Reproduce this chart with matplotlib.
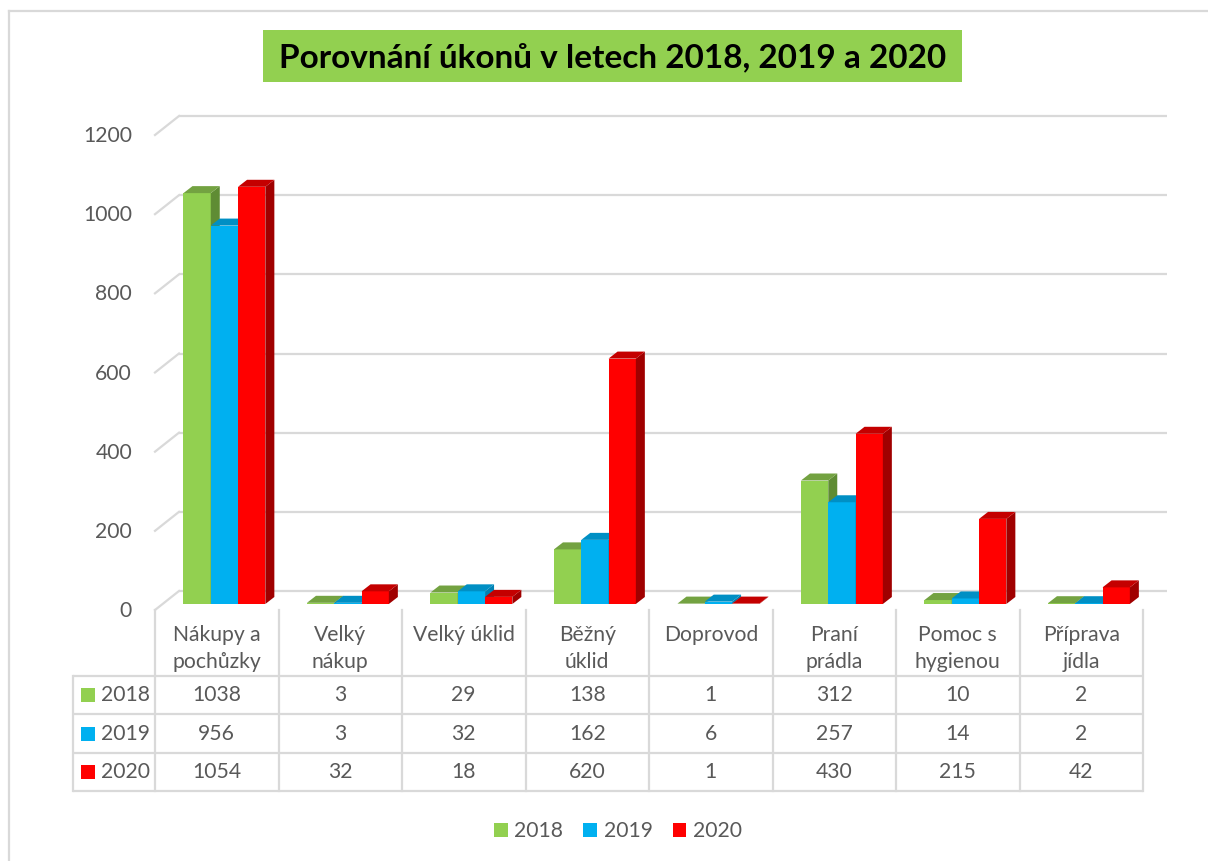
import matplotlib
matplotlib.use("Agg")
import matplotlib.pyplot as plt
from matplotlib.patches import Polygon, Rectangle

# ---------------- data ----------------
categories = ["Nákupy a\npochůzky", "Velký\nnákup", "Velký úklid", "Běžný\núklid",
              "Doprovod", "Praní\nprádla", "Pomoc s\nhygienou", "Příprava\njídla"]
series_names = ["2018", "2019", "2020"]
v2018 = [1038, 3, 29, 138, 1, 312, 10, 2]
v2019 = [956, 3, 32, 162, 6, 257, 14, 2]
v2020 = [1054, 32, 18, 620, 1, 430, 215, 42]
yticks = [0, 200, 400, 600, 800, 1000, 1200]
title = "Porovnání úkonů v letech 2018, 2019 a 2020"

series = [v2018, v2019, v2020]
c_front = ["#92d050", "#00b0f0", "#ff0000"]
c_side = ["#5f8c34", "#0081b3", "#a00000"]
c_top = ["#73a241", "#008fc4", "#c40000"]
TXT = "#595959"
GRID = "#d9d9d9"
FONT = "Lato"
FS = 15.2

# ---------------- layout (pixels) ----------------
W, H, DPI = 1208, 861, 100
fig = plt.figure(figsize=(W / DPI, H / DPI), dpi=DPI)
fig.patch.set_facecolor("white")

ov = fig.add_axes([0, 0, 1, 1])
ov.set_xlim(0, W)
ov.set_ylim(H, 0)
ov.axis("off")

AX_L, AX_R = 155, 1143
Y0, Y1 = 604, 129
ax = fig.add_axes([AX_L / W, 1 - Y0 / H, (AX_R - AX_L) / W, (Y0 - Y1) / H])
ax.set_xlim(-0.5, len(categories) - 0.5)
ax.set_ylim(0, 1200)
ax.axis("off")

pxx = (AX_R - AX_L) / len(categories)
pxy = (Y0 - Y1) / 1200.0


def dx(p):
    return p / pxx


def dy(p):
    return p / pxy


# gridlines (3D back wall + side wall)
for v in yticks:
    ax.plot([-0.5 + dx(24), len(categories) - 0.5 + dx(24)], [v + dy(13)] * 2,
            color=GRID, lw=1.6, clip_on=False, zorder=0.5, solid_capstyle="butt")
    ax.plot([-0.5, -0.5 + dx(24)], [v - dy(6), v + dy(13)],
            color=GRID, lw=1.6, clip_on=False, zorder=0.5)
    ax.text(-0.5 - dx(23), v - dy(7), f"{v}", ha="right", va="center",
            fontsize=FS, color=TXT, family=FONT)

# bars
width = 0.221
off = 0.062
handles = []
for j, vals in enumerate(series):
    xs = [i + off + (j - 1) * width for i in range(len(categories))]
    bc = ax.bar(xs, vals, width, color=c_front[j], zorder=2 + j,
                label=series_names[j], clip_on=False, linewidth=0)
    handles.append(bc)
    for x, v in zip(xs, vals):
        xl, xr = x - width / 2, x + width / 2
        side = Polygon([(xr, 0), (xr + dx(9), dy(7)), (xr + dx(9), v + dy(7)), (xr, v)],
                       closed=True, facecolor=c_side[j], edgecolor="none",
                       zorder=2 + j, clip_on=False)
        top = Polygon([(xl, v), (xr, v), (xr + dx(9), v + dy(7)), (xl + dx(9), v + dy(7))],
                      closed=True, facecolor=c_top[j], edgecolor="none",
                      zorder=2 + j, clip_on=False)
        ax.add_patch(side)
        ax.add_patch(top)

# ---------------- data table ----------------
T_L = 73
row_lines = [676, 714, 753, 791]
head_top = 610
ncol = len(categories)
col_x = [AX_L + i * pxx for i in range(ncol + 1)]
for y in row_lines:
    ov.plot([T_L, AX_R], [y, y], color=GRID, lw=1.6, solid_capstyle="butt")
ov.plot([T_L, T_L], [row_lines[0], row_lines[-1]], color=GRID, lw=1.6)
for x in col_x:
    ov.plot([x, x], [head_top, row_lines[-1]], color=GRID, lw=1.6)

for i, cat in enumerate(categories):
    cx = (col_x[i] + col_x[i + 1]) / 2
    for k, line in enumerate(cat.split("\n")):
        ov.text(cx, 635 + 27 * k, line, ha="center", va="center",
                fontsize=FS, color=TXT, family=FONT)

for r, vals in enumerate(series):
    cy = (row_lines[r] + row_lines[r + 1]) / 2
    ov.add_patch(Rectangle((81, cy - 7), 14, 14, facecolor=c_front[r], edgecolor="none"))
    ov.text(101, cy, series_names[r], ha="left", va="center",
            fontsize=FS, color=TXT, family=FONT)
    for i, v in enumerate(vals):
        cx = (col_x[i] + col_x[i + 1]) / 2
        ov.text(cx, cy, f"{v}", ha="center", va="center",
                fontsize=FS, color=TXT, family=FONT)

# ---------------- title ----------------
ov.add_patch(Rectangle((263, 30), 699, 52, facecolor="#92d050", edgecolor="none"))
ov.text(612.5, 57, title, ha="center", va="center", fontsize=24,
        fontweight="bold", color="black", family=FONT)

# ---------------- legend ----------------
leg = fig.legend(handles=handles, labels=series_names, loc="center",
                 bbox_to_anchor=(618 / W, 1 - 831 / H), ncol=3, frameon=False,
                 handlelength=0.65, handleheight=0.65, handletextpad=0.3,
                 columnspacing=0.95, prop={"family": FONT, "size": FS})
for t in leg.get_texts():
    t.set_color(TXT)

# ---------------- chart border ----------------
ov.plot([9, 9], [11, H], color=GRID, lw=1.6)
ov.plot([9, W], [11, 11], color=GRID, lw=1.6)

fig.savefig("out.png", dpi=DPI, facecolor="white")
